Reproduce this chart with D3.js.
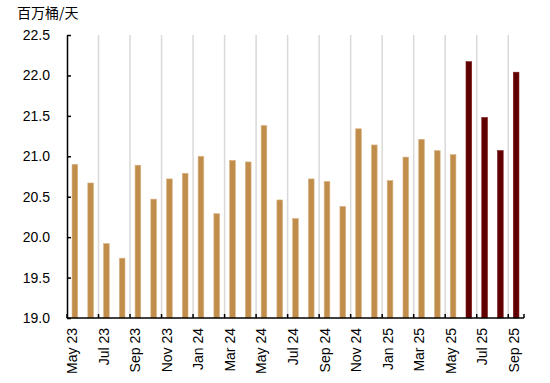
<!DOCTYPE html>
<html><head><meta charset="utf-8">
<script src="https://cdn.jsdelivr.net/npm/d3@7"></script>
<style>body{margin:0;background:#fff}svg{display:block}text{font-family:"Liberation Sans",Arial,sans-serif}</style>
</head><body><svg id="c" width="550" height="383"></svg>
<script>
const categories = ["May 23","Jun 23","Jul 23","Aug 23","Sep 23","Oct 23","Nov 23","Dec 23","Jan 24","Feb 24","Mar 24","Apr 24","May 24","Jun 24","Jul 24","Aug 24","Sep 24","Oct 24","Nov 24","Dec 24","Jan 25","Feb 25","Mar 25","Apr 25","May 25","Jun 25","Jul 25","Aug 25","Sep 25"];
const values = [20.90,20.67,19.92,19.74,20.89,20.47,20.72,20.79,21.00,20.29,20.95,20.93,21.38,20.46,20.23,20.72,20.69,20.38,21.34,21.14,20.70,20.99,21.21,21.07,21.02,22.17,21.48,21.07,22.04];
const forecastFrom = "Jun 25";
const yTicks = [19.0,19.5,20.0,20.5,21.0,21.5,22.0,22.5];
const yUnit = "百万桶/天";

const svg = d3.select("#c");
const m = {l:67, r:26, t:35, b:65};
const W = 550, H = 383;
const x = d3.scaleBand().domain(categories).range([m.l, W - m.r]).paddingInner(0.64).paddingOuter(0.32);
const y = d3.scaleLinear().domain([19, 22.5]).range([H - m.b, m.t]);
const x0 = m.l, x1 = W - m.r;
const fIdx = categories.indexOf(forecastFrom);

// gridlines every 2 categories at boundaries
const bounds = d3.range(2, categories.length, 2).map(i => x0 + (x1 - x0) * i / categories.length);
svg.append("g").selectAll("line").data(bounds).join("line")
  .attr("x1", d => d).attr("x2", d => d).attr("y1", y(22.5)).attr("y2", y(19))
  .attr("stroke", "#d9d9d9").attr("stroke-width", 1.5);

// bars
svg.append("g").selectAll("rect").data(values).join("rect")
  .attr("x", (d, i) => x(categories[i]))
  .attr("width", x.bandwidth())
  .attr("y", d => y(d))
  .attr("height", d => y(19) - y(d))
  .attr("fill", (d, i) => i >= fIdx ? "#600000" : "#C08D4B")
  .attr("stroke", (d, i) => i >= fIdx ? "#7a1a1a" : "#d9b486")
  .attr("stroke-width", 0.6);

// y axis
const ya = svg.append("g").attr("transform", `translate(${x0},0)`)
  .call(d3.axisLeft(y).tickValues(yTicks).tickFormat(d3.format(".1f")).tickSizeInner(-4).tickSizeOuter(0).tickPadding(17));
ya.select(".domain").attr("stroke", "#000").attr("stroke-width", 1.5);
ya.selectAll(".tick line").attr("stroke", "#000").attr("stroke-width", 1.5);
ya.selectAll("text").attr("font-size", 14).attr("fill", "#000").style("font-family", '"Liberation Sans",Arial,sans-serif');

// x axis baseline and ticks
svg.append("line").attr("x1", x0).attr("x2", x1).attr("y1", y(19)).attr("y2", y(19)).attr("stroke", "#000").attr("stroke-width", 1.5);
const tickPos = [x0].concat(bounds).concat([x1]);
svg.append("g").selectAll("line").data(tickPos).join("line")
  .attr("x1", d => d).attr("x2", d => d).attr("y1", y(19)).attr("y2", y(19) - 4)
  .attr("stroke", "#000").attr("stroke-width", 1.5);

// x labels
svg.append("g").selectAll("text").data(categories.filter((c, i) => i % 2 === 0)).join("text")
  .attr("transform", d => `translate(${x(d) + x.bandwidth()/2 + 2.5},${y(19) + 10}) rotate(-90)`)
  .attr("text-anchor", "end").attr("font-size", 14).attr("fill", "#000").text(d => d);

// unit
svg.append("text").attr("x", 17).attr("y", 18).attr("font-size", 14).attr("fill", "#000")
  .style("font-family", '"Noto Sans CJK SC","Liberation Sans",sans-serif').text(yUnit);
</script></body></html>
